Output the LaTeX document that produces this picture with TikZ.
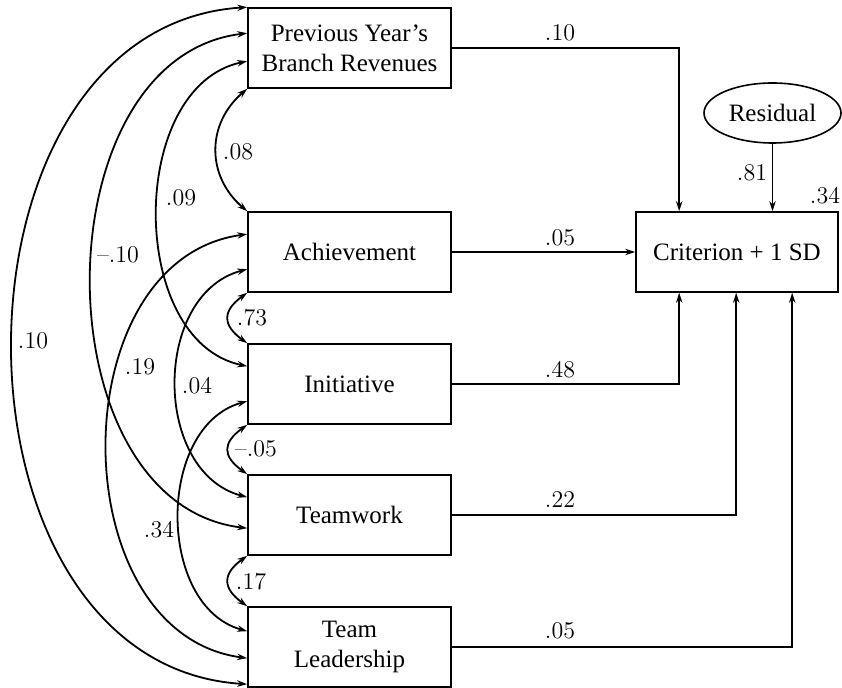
\documentclass[tikz,border=0pt]{standalone}
\usepackage{fontspec}
\newfontfamily\boxfont{Liberation Serif}
\usetikzlibrary{arrows.meta,calc,shapes.geometric}
\begin{document}
\begin{tikzpicture}[x=0.5pt,y=-0.5pt,
  box/.style={draw,line width=0.8pt,minimum width=101.5pt,minimum height=40pt,inner sep=0pt,align=center,font=\boxfont\fontsize{12.5}{15}\selectfont},
  conn/.style={line width=0.9pt,-{Stealth[length=5pt,width=3.2pt]}},
  cov/.style={line width=0.9pt,{Stealth[length=5pt,width=3.2pt]}-{Stealth[length=5pt,width=3.2pt]}},
  num/.style={font=\fontsize{12}{14}\selectfont,inner sep=0pt}]
\useasboundingbox (0,0) rectangle (842,688);

% boxes
\node[box] (P) at (349.5,48) {Previous Year’s\\Branch Revenues};
\node[box] (A) at (349.5,252) {Achievement};
\node[box] (I) at (349.5,384) {Initiative};
\node[box] (T) at (349.5,515) {Teamwork};
\node[box] (L) at (349.5,647) {Team\\Leadership};
\node[box,minimum width=101pt] (C) at (737,252) {Criterion + 1 SD};
\node[ellipse,draw,line width=0.8pt,minimum width=68.5pt,minimum height=30pt,inner sep=0pt,font=\boxfont\fontsize{12.5}{15}\selectfont] (R) at (772.5,113) {Residual};

% curve end points
\coordinate (P0) at (P.north west);
\coordinate (P1) at ($(P.north west)+(0,26)$);
\coordinate (P2) at ($(P.north west)+(0,54)$);
\coordinate (P3) at (P.south west);
\coordinate (A0) at (A.north west);
\coordinate (A1) at ($(A.north west)+(0,23)$);
\coordinate (A2) at ($(A.north west)+(0,58)$);
\coordinate (A3) at (A.south west);
\coordinate (I0) at (I.north west);
\coordinate (I1) at ($(I.north west)+(0,23)$);
\coordinate (I2) at ($(I.north west)+(0,58)$);
\coordinate (I3) at (I.south west);
\coordinate (T0) at (T.north west);
\coordinate (T1) at ($(T.north west)+(0,23)$);
\coordinate (T2) at ($(T.north west)+(0,54)$);
\coordinate (T3) at (T.south west);
\coordinate (L0) at (L.north west);
\coordinate (L1) at ($(L.north west)+(0,25)$);
\coordinate (L2) at ($(L.north west)+(0,52)$);
\coordinate (L3) at ($(L.north west)+(0,78)$);

% paths to criterion
\draw[conn] (P.east) -| ($(C.north west)+(44,0)$);
\draw[conn] (A.east) -- (C.west);
\draw[conn] (I.east) -| ($(C.south west)+(44,0)$);
\draw[conn] (T.east) -| ($(C.south west)+(101,0)$);
\draw[conn] (L.east) -| ($(C.south west)+(157,0)$);
\draw[conn] (R.south) -- (R.south |- C.north);

\node[num] at (560,33) {.10};
\node[num] at (560,238) {.05};
\node[num] at (560,370) {.48};
\node[num] at (560,500) {.22};
\node[num] at (560,631) {.05};
\node[num] at (752,173) {.81};
\node[num] at (825,196) {.34};

% correlations
\draw[cov] (P0) .. controls +(-313,20) and +(-313,-20) .. (L3);
\draw[cov] (P1) .. controls +(-208,25) and +(-208,-25) .. (T2);
\draw[cov] (P2) .. controls +(-120,25) and +(-120,-25) .. (I1);
\draw[cov] (P3) .. controls +(-41,35) and +(-41,-35) .. (A0);
\draw[cov] (A1) .. controls +(-187,25) and +(-187,-25) .. (L2);
\draw[cov] (A2) .. controls +(-95,25) and +(-95,-25) .. (T1);
\draw[cov] (A3) .. controls +(-25,18) and +(-25,-18) .. (I0);
\draw[cov] (I2) .. controls +(-91,25) and +(-91,-25) .. (L1);
\draw[cov] (I3) .. controls +(-25,18) and +(-25,-18) .. (T0);
\draw[cov] (T3) .. controls +(-25,18) and +(-25,-18) .. (L0);

\node[num] at (33,341) {.10};
\node[num] at (118,255) {--.10};
\node[num] at (181,198) {.09};
\node[num] at (238,152) {.08};
\node[num] at (140,367) {.19};
\node[num] at (197,386) {.04};
\node[num] at (252,318) {.73};
\node[num] at (159,530) {.34};
\node[num] at (256,449) {--.05};
\node[num] at (251,582) {.17};
\end{tikzpicture}
\end{document}
